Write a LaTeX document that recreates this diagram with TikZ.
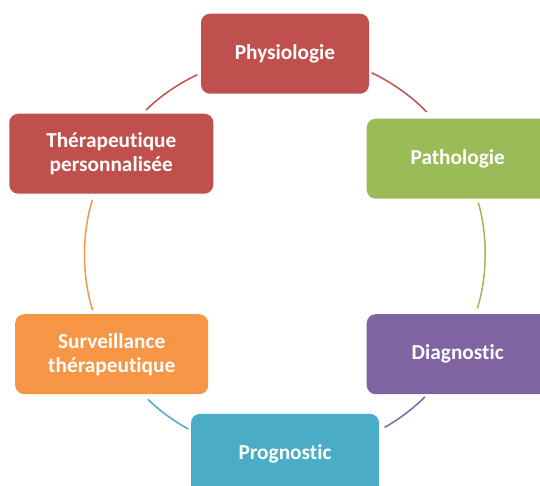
\documentclass[tikz,border=0pt]{standalone}
\usepackage{fontspec}
\setmainfont{Carlito}[Ligatures={NoCommon}]
\definecolor{cRouge}{HTML}{C0504D}
\definecolor{cVert}{HTML}{9BBB59}
\definecolor{cViolet}{HTML}{8064A2}
\definecolor{cBleu}{HTML}{4BACC6}
\definecolor{cOrange}{HTML}{F79646}

\begin{document}
\begin{tikzpicture}[x=1pt,y=-1pt,
	etape/.style={rounded corners=9pt, minimum height=80pt, inner sep=0pt, outer sep=0pt,
		text=white, align=center, font=\bfseries\fontsize{21.3}{24}\selectfont},
	lien/.style={line width=1.5pt, looseness=0.86}]
	\useasboundingbox (0,0) rectangle (540,485);
	\clip (0,0) rectangle (540,485);
	%Etapes du cycle
	\node[etape, fill=cRouge, minimum width=168pt] (phys) at (285,53.7) {Physiologie};
	\node[etape, fill=cVert, minimum width=182pt] (path) at (457.7,158.7) {Pathologie};
	\node[etape, fill=cViolet, minimum width=182pt] (diag) at (457.7,354.2) {Diagnostic};
	\node[etape, fill=cBleu, minimum width=188pt] (prog) at (285,453.8) {Prognostic};
	\node[etape, fill=cOrange, minimum width=193pt] (surv) at (111.7,354.2) {Surveillance\\thérapeutique};
	\node[etape, fill=cRouge, minimum width=204pt] (ther) at (111.3,153.7) {Thérapeutique\\personnalisée};
	%Arcs entre les etapes
	\draw[lien, cRouge, shorten <=3pt, shorten >=9pt] (phys.-12.6) to[out=-25, in=132.4] (path.122.7);
	\draw[lien, cVert, shorten <=4pt, shorten >=6pt] (path.-64.5) to[out=-73.9, in=72.5] (diag.66.4);
	\draw[lien, cViolet, shorten <=3.7pt, shorten >=6.3pt] (diag.-127.6) to[out=-134.7, in=28.2] (prog.14.2);
	\draw[lien, cBleu, shorten <=3pt, shorten >=7pt] (prog.166.1) to[out=152.1, in=-45.5] (surv.-52.8);
	\draw[lien, cOrange, shorten <=4.5pt, shorten >=6.3pt] (surv.114) to[out=107.6, in=-107.6] (ther.-113.7);
	\draw[lien, cRouge, shorten <=5pt, shorten >=4pt] (ther.52.8) to[out=45.7, in=-155.3] (phys.-167.7);
\end{tikzpicture}
\end{document}
